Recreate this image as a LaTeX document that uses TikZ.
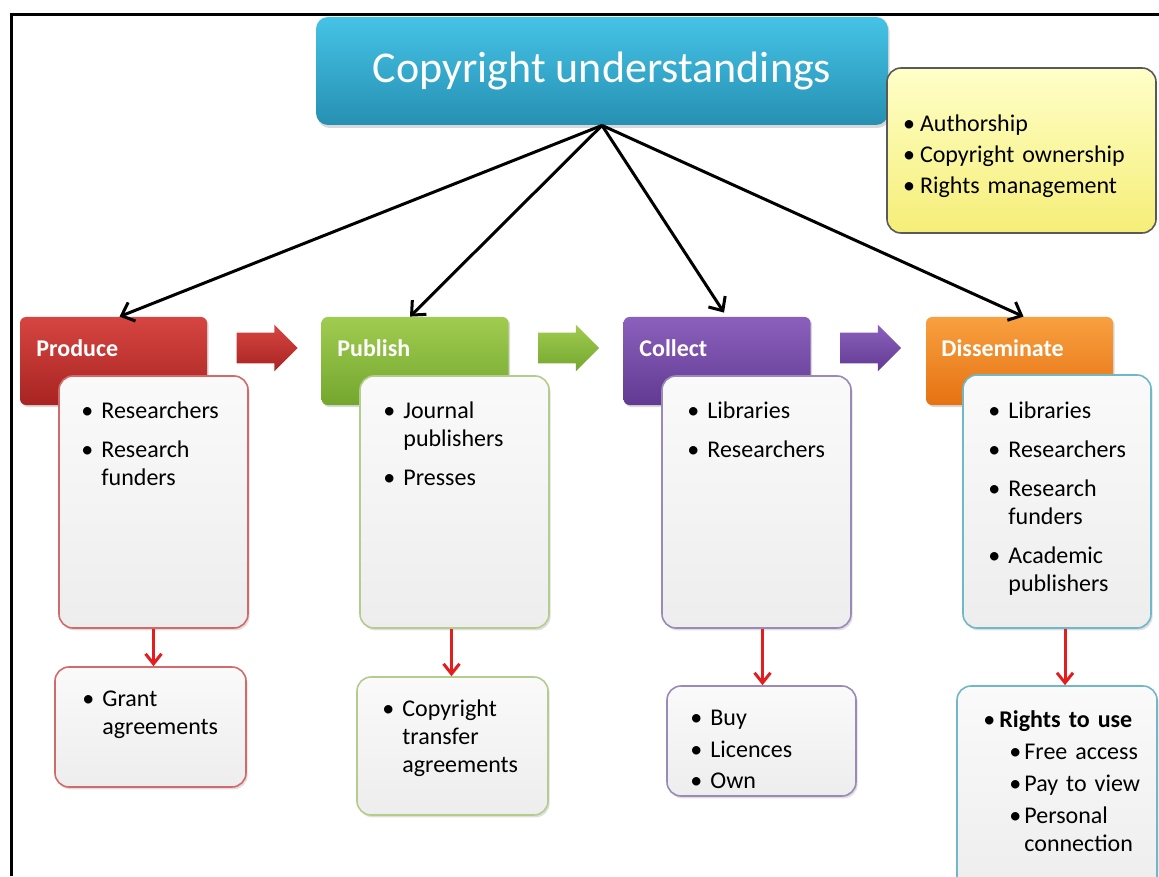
\documentclass[tikz,border=0pt]{standalone}
\usepackage{fontspec}
\setmainfont{Carlito}
\usetikzlibrary{arrows.meta, shapes.arrows, shadows, positioning}

\definecolor{titletop}{HTML}{45C3E6}
\definecolor{titlebot}{HTML}{2690B2}
\definecolor{prodtop}{HTML}{D64541}
\definecolor{prodbot}{HTML}{A82422}
\definecolor{pubtop}{HTML}{A0CC50}
\definecolor{pubbot}{HTML}{74A62E}
\definecolor{coltop}{HTML}{8A60BC}
\definecolor{colbot}{HTML}{623A92}
\definecolor{distop}{HTML}{F8A040}
\definecolor{disbot}{HTML}{E67212}
\definecolor{prodline}{HTML}{D26A6A}
\definecolor{publine}{HTML}{B4CC8C}
\definecolor{colline}{HTML}{9A8AB8}
\definecolor{disline}{HTML}{70B8C8}
\definecolor{notetop}{HTML}{FFFFC8}
\definecolor{notebot}{HTML}{F5EE78}
\definecolor{redline}{HTML}{E41E1E}

\newlength{\bulw}
\setlength{\bulw}{10pt}
% one bullet line, optional gap after it
\newcommand{\bitem}[2][5.5pt]{\par\hangindent=\bulw\hangafter=1\noindent\makebox[\bulw][l]{\textbullet}#2\par\vspace{#1}}
\newcommand{\bsub}[2][2pt]{\par\leftskip=13pt\hangindent=7.5pt\hangafter=1\noindent\makebox[7.5pt][l]{\textbullet}#2\par\vspace{#1}}

\begin{document}
\begin{tikzpicture}[x=0.5pt, y=-0.5pt,
    font=\fontsize{12}{14}\selectfont,
    title/.style={rounded corners=6pt, minimum width=286pt, minimum height=54pt,
        top color=titletop, bottom color=titlebot, text=white,
        font=\fontsize{22}{26}\selectfont,
        drop shadow={opacity=0.3, shadow xshift=0.8pt, shadow yshift=-1.5pt}},
    note/.style={draw=black!65, line width=0.8pt, rounded corners=7pt,
        minimum width=134.5pt, minimum height=82.5pt, top color=notetop, bottom color=notebot,
        text width=118.5pt, align=left, inner xsep=8pt},
    hdr/.style={rounded corners=3pt, minimum width=93.5pt, minimum height=44pt, inner sep=0pt,
        drop shadow={opacity=0.3, shadow xshift=0.8pt, shadow yshift=-1pt}},
    hdrtext/.style={anchor=west, inner sep=0pt, text=white, font=\fontsize{12}{14}\selectfont\bfseries},
    card/.style={draw=#1, line width=0.8pt, rounded corners=7pt,
        top color=black!2, bottom color=black!7, inner sep=0pt,
        drop shadow={opacity=0.25, shadow xshift=0.8pt, shadow yshift=-1.2pt}},
    items/.style={anchor=north west, inner sep=0pt, text width=#1, align=left},
    flow/.style={single arrow, minimum height=30.5pt, inner xsep=0pt, inner ysep=7.5pt,
        single arrow head extend=4pt},
    link/.style={line width=1.5pt, -{Straight Barb[length=5.5pt,width=10pt]}},
    redarrow/.style={draw=redline, line width=1.5pt, -{Straight Barb[length=5pt,width=8pt]}}]

    \useasboundingbox (0,0) rectangle (1159,876);
    \clip (0,0) rectangle (1159,876);

    % Frame
    \draw[line width=1.5pt] (11,876) -- (11,15) -- (1159,15);

    % Top
    \node[title] (title) at (602,71) {Copyright understandings};
    \node[note] (note) at (1021.5,150.5) {\setlength{\bulw}{8.5pt}%
        \bitem[1.5pt]{Authorship}\bitem[1.5pt]{Copyright ownership}\bitem[2pt]{Rights management}};

    % Stage headers
    \node[hdr, top color=prodtop, bottom color=prodbot] (produce) at (113.5,361) {};
    \node[hdr, top color=pubtop, bottom color=pubbot] (publish) at (415,361) {};
    \node[hdr, top color=coltop, bottom color=colbot] (collect) at (717,361) {};
    \node[hdr, top color=distop, bottom color=disbot] (disseminate) at (1019.5,361) {};
    \node[hdrtext] (produce-t) at (36,348) {Produce};
    \node[hdrtext] (publish-t) at (337,348) {Publish};
    \node[hdrtext] (collect-t) at (639,348) {Collect};
    \node[hdrtext] (disseminate-t) at (941,348) {Disseminate};

    % Flow arrows
    \node[flow, top color=prodtop, bottom color=prodbot] (flow1) at (259.5,348) {};
    \node[flow, top color=pubtop, bottom color=pubbot] (flow2) at (561,348) {};
    \node[flow, top color=coltop, bottom color=colbot] (flow3) at (863,348) {};

    % Who
    \node[card=prodline, minimum width=94.5pt, minimum height=126pt] (pbox) at (153.5,502) {};
    \node[card=publine, minimum width=94.5pt, minimum height=126pt] (ubox) at (454.5,502) {};
    \node[card=colline, minimum width=94.5pt, minimum height=126pt] (cbox) at (756.5,502) {};
    \node[card=disline, minimum width=94pt, minimum height=126.5pt] (dbox) at (1057,501.5) {};
    \node[items=85pt] (plist) at (81,390) {\bitem{Researchers}\bitem{Research\newline funders}};
    \node[items=85pt] (ulist) at (383,390) {\bitem{Journal\newline publishers}\bitem{Presses}};
    \node[items=85pt] (clist) at (687,390) {\bitem{Libraries}\bitem{Researchers}};
    \node[items=85pt] (dlist) at (988,390) {\bitem{Libraries}\bitem{Researchers}\bitem{Research\newline funders}\bitem{Academic\newline publishers}};

    % Agreements
    \node[card=prodline, minimum width=95.5pt, minimum height=60pt] (pbot) at (150.5,727) {};
    \node[card=publine, minimum width=95.5pt, minimum height=69pt] (ubot) at (452.5,746) {};
    \node[card=colline, minimum width=94.5pt, minimum height=55pt] (cbot) at (761.5,741) {};
    \node[card=disline, minimum width=100pt, minimum height=104pt] (dbot) at (1057,790) {};
    \node[items=85pt] (ptext) at (82,678) {\bitem{Grant\newline agreements}};
    \node[items=85pt] (utext) at (382,688) {\bitem{Copyright\newline transfer\newline agreements}};
    \node[items=85pt] (ctext) at (690,697) {\bitem[1.8pt]{Buy}\bitem[1.8pt]{Licences}\bitem{Own}};
    \node[items=90pt] (dtext) at (983,699) {\setlength{\bulw}{8pt}%
        \bitem[2pt]{\textbf{Rights to use}}\bsub{Free access}\bsub{Pay to view}\bsub{Personal\newline connection}};

    % Links
    \draw[link] (title.south) -- ([xshift=3pt]produce.north);
    \draw[link] (title.south) -- ([xshift=-2.5pt]publish.north);
    \draw[link] (title.south) -- ([xshift=3.5pt,yshift=2pt]collect.north);
    \draw[link] (title.south) -- ([xshift=2pt]disseminate.north);

    \draw[redarrow] (pbox.south) -- (pbox.south |- pbot.north);
    \draw[redarrow] ([xshift=-1.5pt]ubox.south) -- ([xshift=-1.5pt]ubox.south |- ubot.north);
    \draw[redarrow] ([xshift=3pt]cbox.south) -- ([xshift=3pt]cbox.south |- cbot.north);
    \draw[redarrow] ([xshift=4pt]dbox.south) -- ([xshift=4pt]dbox.south |- dbot.north);
\end{tikzpicture}
\end{document}
